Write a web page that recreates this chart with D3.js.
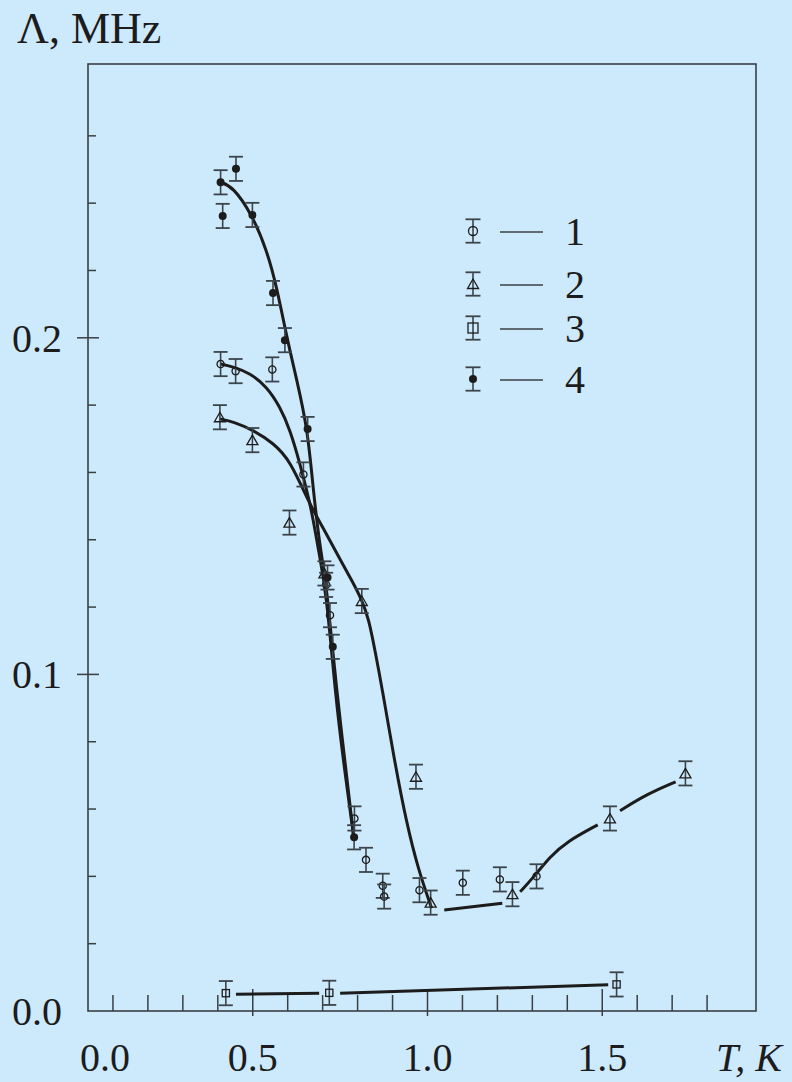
<!DOCTYPE html>
<html>
<head>
<meta charset="utf-8">
<script src="https://cdn.jsdelivr.net/npm/d3@7"></script>
<style>
body { margin: 0; background: #cdeafc; }
svg text { font-family: "Times New Roman", Times, "Liberation Serif", "Nimbus Roman", serif; }
</style>
</head>
<body>
<svg id="chart" width="792" height="1082"></svg>
<script>
//
// Data: [T (K), Lambda (MHz)]
//
var ERR = 0.0036; // half height of every error bar

var circles = [
    [0.408, 0.1922], [0.451, 0.1901], [0.556, 0.1906], [0.645, 0.1594],
    [0.710, 0.1266], [0.721, 0.1176], [0.791, 0.0572], [0.824, 0.0449],
    [0.872, 0.0372], [0.876, 0.0340], [0.977, 0.0359], [1.101, 0.0381],
    [1.207, 0.0391], [1.312, 0.0400]
];
var triangles = [
    [0.406, 0.1764], [0.499, 0.1696], [0.605, 0.1451], [0.705, 0.1300],
    [0.812, 0.1218], [0.967, 0.0696], [1.009, 0.0322], [1.243, 0.0347],
    [1.522, 0.0572], [1.738, 0.0706]
];
var squares = [
    [0.423, 0.0053], [0.719, 0.0054], [1.541, 0.0079]
];
var dots = [
    [0.408, 0.2462], [0.414, 0.2362], [0.452, 0.2502], [0.499, 0.2365],
    [0.558, 0.2133], [0.592, 0.1993], [0.657, 0.1729], [0.714, 0.1288],
    [0.729, 0.1082], [0.790, 0.0516]
];

// hand-drawn fit lines
var fitDots = [
    [0.408, 0.2462], [0.4435, 0.2449], [0.498, 0.2366], [0.540, 0.2261],
    [0.5685, 0.2152], [0.597, 0.2003], [0.626, 0.1875], [0.657, 0.1729],
    [0.673, 0.1548], [0.692, 0.1379], [0.712, 0.1261], [0.735, 0.0993],
    [0.790, 0.0508]
];
var fitCircles = [
    [0.408, 0.1922], [0.444, 0.1914], [0.492, 0.1895], [0.540, 0.1855],
    [0.578, 0.1795], [0.607, 0.1726], [0.635, 0.1627], [0.669, 0.1488],
    [0.6875, 0.1370], [0.710, 0.1251], [0.738, 0.0924], [0.759, 0.0746],
    [0.790, 0.0508]
];
var fitTriangles = [
    [0.406, 0.1759], [0.444, 0.1751], [0.5016, 0.1726], [0.559, 0.1687],
    [0.6066, 0.1637], [0.664, 0.1503], [0.702, 0.1434], [0.740, 0.1360],
    [0.788, 0.1271], [0.812, 0.1221], [0.832, 0.1165], [0.850, 0.1070],
    [0.870, 0.0960], [0.905, 0.0746], [0.940, 0.0558], [0.974, 0.0419],
    [1.012, 0.0305]
];
var fitTrianglesHigh = [
    [[1.048, 0.0300], [1.214, 0.0320]],
    [[1.265, 0.0354], [1.303, 0.0397], [1.350, 0.0458], [1.398, 0.0503], [1.487, 0.0553]],
    [[1.551, 0.0595], [1.627, 0.0644], [1.710, 0.0681]]
];
var fitSquares = [
    [[0.452, 0.0050], [0.690, 0.0053]],
    [[0.750, 0.0053], [1.517, 0.0078]]
];

var xTickVals = [0, 0.5, 1.0, 1.5];
var xTickLabels = ["0.0", "0.5", "1.0", "1.5"];
var yTickVals = [0, 0.1, 0.2];
var yTickLabels = ["0.0", "0.1", "0.2"];
var legendTypes = ["circle", "triangle", "square", "dot"];
var legendLabels = ["1", "2", "3", "4"];

//
// Layout
//
var BG = "#cdeafc", INK = "#1c1c1c", BAR = "#3c444b";
var frame = { left: 88, right: 756, top: 64, bottom: 1011 };

var x = d3.scaleLinear().domain([0, 2]).range([78, 777]);
var y = d3.scaleLinear().domain([0, 0.1]).range([1011, 674.4]);

var svg = d3.select("#chart");
svg.append("rect").attr("width", 792).attr("height", 1082).attr("fill", BG);

// frame
svg.append("rect")
    .attr("x", frame.left).attr("y", frame.top)
    .attr("width", frame.right - frame.left).attr("height", frame.bottom - frame.top)
    .attr("fill", "none").attr("stroke", "#3a3f44").attr("stroke-width", 1.6);

// x ticks: 0.1 K minor, 0.5 K major
var xMinor = d3.range(1, 19).map(function(i) { return i / 10; })
    .filter(function(v) { return Math.round(v * 10) % 5 != 0; });
svg.append("g").selectAll("line").data(xMinor).join("line")
    .attr("x1", function(d) { return x(d); }).attr("x2", function(d) { return x(d); })
    .attr("y1", frame.bottom).attr("y2", frame.bottom - 16)
    .attr("stroke", "#3a3f44").attr("stroke-width", 1.5);
svg.append("g").selectAll("line").data([0.5, 1.0, 1.5]).join("line")
    .attr("x1", function(d) { return x(d); }).attr("x2", function(d) { return x(d); })
    .attr("y1", frame.bottom + 5).attr("y2", frame.bottom - 22)
    .attr("stroke", "#3a3f44").attr("stroke-width", 1.5);

// y ticks: 0.02 minor, 0.1 major
var yMinor = d3.range(1, 14).map(function(i) { return i * 0.02; })
    .filter(function(v) { return Math.abs(v - 0.1) > 1e-6 && Math.abs(v - 0.2) > 1e-6; });
svg.append("g").selectAll("line").data(yMinor).join("line")
    .attr("x1", frame.left).attr("x2", frame.left + 8)
    .attr("y1", function(d) { return y(d); }).attr("y2", function(d) { return y(d); })
    .attr("stroke", "#3a3f44").attr("stroke-width", 1.5);
svg.append("g").selectAll("line").data([0.1, 0.2]).join("line")
    .attr("x1", frame.left - 11).attr("x2", frame.left + 11)
    .attr("y1", function(d) { return y(d); }).attr("y2", function(d) { return y(d); })
    .attr("stroke", "#3a3f44").attr("stroke-width", 1.5);

// tick labels
svg.append("g").selectAll("text").data(xTickVals).join("text")
    .attr("x", function(d) { return Math.max(x(d), 105); })
    .attr("y", 1071)
    .attr("text-anchor", "middle").attr("font-size", 40).attr("fill", INK)
    .text(function(d, i) { return xTickLabels[i]; });
svg.append("g").selectAll("text").data(yTickVals).join("text")
    .attr("x", 62)
    .attr("y", function(d) { return y(d) + 14; })
    .attr("text-anchor", "end").attr("font-size", 40).attr("fill", INK)
    .text(function(d, i) { return yTickLabels[i]; });

// axis titles
svg.append("text").attr("x", 17).attr("y", 43)
    .attr("font-size", 44).attr("fill", INK).text("Λ, MHz");
svg.append("text").attr("x", 716).attr("y", 1071)
    .attr("font-size", 40).attr("font-style", "italic").attr("fill", INK).text("T, K");

//
// Curves
//
var line = d3.line()
    .x(function(d) { return x(d[0]); })
    .y(function(d) { return y(d[1]); })
    .curve(d3.curveBasis);
var curves = [fitDots, fitCircles, fitTriangles]
    .concat(fitTrianglesHigh).concat(fitSquares);
svg.append("g").selectAll("path").data(curves).join("path")
    .attr("d", line)
    .attr("fill", "none").attr("stroke", INK).attr("stroke-width", 3)
    .attr("stroke-linecap", "butt");

//
// Markers with error bars
//
function drawMarker(g, type, big) {
    var s = big ? 1.25 : 1;
    if (type == "circle") {
        g.append("circle").attr("r", 3.6 * s)
            .attr("fill", "none").attr("stroke", INK).attr("stroke-width", 1.3);
    } else if (type == "dot") {
        g.append("circle").attr("r", 4).attr("fill", INK);
    } else if (type == "triangle") {
        g.append("path").attr("d", "M0,-5L5.5,4.5L-5.5,4.5Z")
            .attr("fill", "none").attr("stroke", INK).attr("stroke-width", 1.3);
    } else if (type == "square") {
        var h = big ? 5 : 3.6;
        g.append("rect").attr("x", -h).attr("y", -h).attr("width", 2 * h).attr("height", 2 * h)
            .attr("fill", "none").attr("stroke", INK).attr("stroke-width", 1.3);
    }
}

function drawErrorBar(g, half, cap) {
    g.append("line").attr("x1", 0).attr("x2", 0).attr("y1", -half).attr("y2", half)
        .attr("stroke", BAR).attr("stroke-width", 1.6);
    g.append("line").attr("x1", -cap).attr("x2", cap).attr("y1", -half).attr("y2", -half)
        .attr("stroke", BAR).attr("stroke-width", 1.8);
    g.append("line").attr("x1", -cap).attr("x2", cap).attr("y1", half).attr("y2", half)
        .attr("stroke", BAR).attr("stroke-width", 1.8);
}

var seriesList = [
    { type: "circle", pts: circles },
    { type: "triangle", pts: triangles },
    { type: "square", pts: squares },
    { type: "dot", pts: dots }
];
seriesList.forEach(function(s) {
    s.pts.forEach(function(p) {
        var g = svg.append("g")
            .attr("transform", "translate(" + x(p[0]) + "," + y(p[1]) + ")");
        var half = y(p[1] - ERR) - y(p[1]);
        drawErrorBar(g, half, 7);
        drawMarker(g, s.type, false);
    });
});

//
// Legend
//
var legendRowY = [231, 284, 328, 379];
legendTypes.forEach(function(t, i) {
    var g = svg.append("g").attr("transform", "translate(473," + legendRowY[i] + ")");
    drawErrorBar(g, 11.7, 7.5);
    drawMarker(g, t, true);
    svg.append("line")
        .attr("x1", 500).attr("x2", 543)
        .attr("y1", legendRowY[i] + 1).attr("y2", legendRowY[i] + 1)
        .attr("stroke", "#3a3f44").attr("stroke-width", 1.6);
    svg.append("text")
        .attr("x", 565).attr("y", legendRowY[i] + 14)
        .attr("font-size", 40).attr("fill", INK)
        .text(legendLabels[i]);
});
</script>
</body>
</html>
